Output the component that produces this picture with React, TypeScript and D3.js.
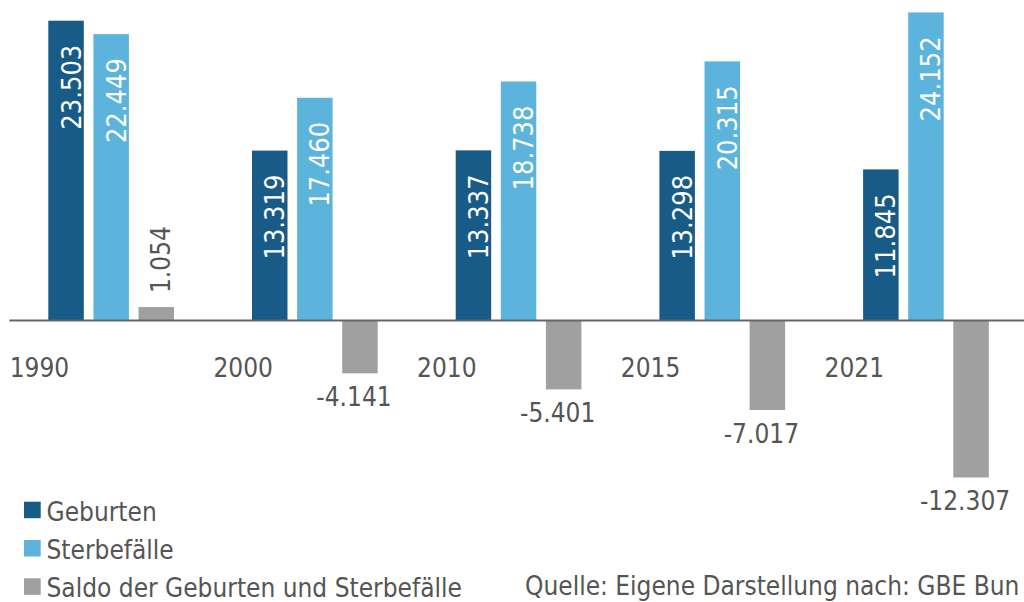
import React from "react";
import * as d3 from "d3";

const years = ["1990", "2000", "2010", "2015", "2021"];
const geburten = [23.503, 13.319, 13.337, 13.298, 11.845];
const sterbefaelle = [22.449, 17.46, 18.738, 20.315, 24.152];
const saldo = [1.054, -4.141, -5.401, -7.017, -12.307];
const seriesNames = ["Geburten", "Sterbefälle", "Saldo der Geburten und Sterbefälle"];
const seriesColors = ["#175b86", "#5cb4dc", "#a0a0a0"];
const sourceText = "Quelle: Eigene Darstellung nach: GBE Bun";

const W = 1024;
const H = 602;
const FONT = "'DejaVu Sans Condensed', 'DejaVu Sans', sans-serif";
const TEXT = "#555555";
const FS = 26;

const fmt = (v: number) => {
  const s = Math.abs(v).toFixed(3);
  return (v < 0 ? "-" : "") + s;
};

export default function App() {
  const y = d3.scaleLinear().domain([0, 23.503]).range([320.5, 20.7]);
  const x0 = d3.scaleBand<string>().domain(years).range([11.7, 11.7 + 5 * 203.7]);
  const x1 = d3
    .scaleBand<number>()
    .domain([0, 1, 2])
    .range([36.6, 162.3])
    .paddingInner(0.213)
    .paddingOuter(0);
  const bw = x1.bandwidth();
  const data = [geburten, sterbefaelle, saldo];

  return (
    <svg
      width={W}
      height={H}
      style={{ position: "absolute", left: 0, top: 0, fontFamily: FONT, fontStretch: "condensed" }}
    >
      <rect width={W} height={H} fill="#ffffff" />
      {years.map((yr, i) => {
        const gx = x0(yr) as number;
        return (
          <g key={yr}>
            {data.map((arr, j) => {
              const v = arr[i];
              const bx = gx + (x1(j) as number);
              const top = Math.min(y(v), y(0));
              const h = Math.abs(y(v) - y(0));
              const cx = bx + bw / 2;
              let label: React.ReactNode = null;
              if (j < 2) {
                label = (
                  <text
                    transform={`translate(${cx + 14.5},${top + 24}) rotate(-90)`}
                    textAnchor="end"
                    fill="#ffffff"
                    fontSize={27}
                  >
                    {fmt(v)}
                  </text>
                );
              } else if (v >= 0) {
                label = (
                  <text
                    transform={`translate(${cx + 13.7},${top - 14}) rotate(-90)`}
                    textAnchor="start"
                    fill={TEXT}
                    fontSize={FS}
                  >
                    {fmt(v)}
                  </text>
                );
              } else {
                label = (
                  <text x={cx - 6} y={top + h + 33} textAnchor="middle" fill={TEXT} fontSize={FS}>
                    {fmt(v)}
                  </text>
                );
              }
              return (
                <g key={j}>
                  <rect x={bx} y={top} width={bw} height={h} fill={seriesColors[j]} />
                  {label}
                </g>
              );
            })}
            <text x={gx - 2} y={377} fill={TEXT} fontSize={FS}>
              {yr}
            </text>
          </g>
        );
      })}
      <line x1={9.3} x2={W} y1={y(0)} y2={y(0)} stroke="#666666" strokeWidth={2} />
      {seriesNames.map((name, k) => (
        <g key={name} transform={`translate(0,${k * 38.3})`}>
          <rect x={24} y={501.7} width={16.7} height={16.5} fill={seriesColors[k]} />
          <text x={46.5} y={520.7} fill={TEXT} fontSize={FS}>
            {name}
          </text>
        </g>
      ))}
      <text x={525} y={595} fill={TEXT} fontSize={FS}>
        {sourceText}
      </text>
    </svg>
  );
}
